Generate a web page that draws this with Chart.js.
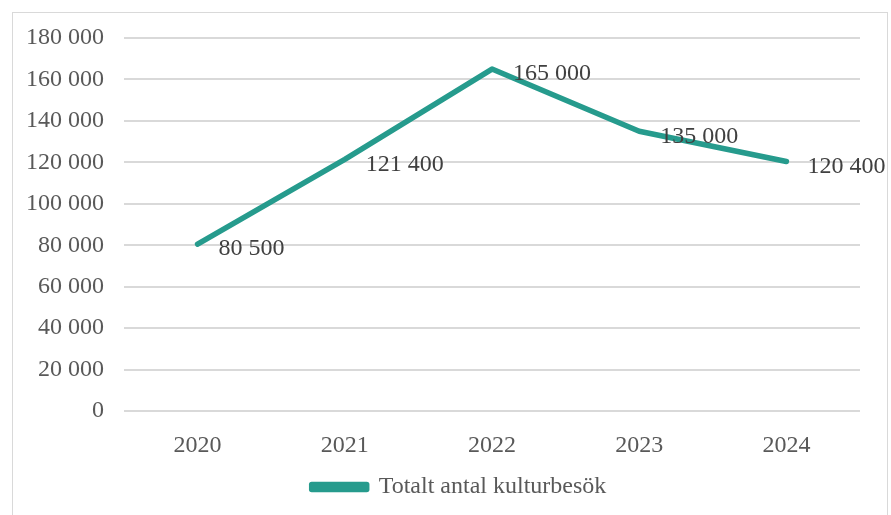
<!DOCTYPE html>
<html>
<head>
<meta charset="utf-8">
<script src="https://cdn.jsdelivr.net/npm/chart.js@4"></script>
<style>
  html, body { margin: 0; padding: 0; background: #fff; }
  #wrap { width: 891px; height: 515px; }
</style>
</head>
<body>
<div id="wrap"><canvas id="grafico"></canvas></div>
<script>
// Data
const years = ['2020', '2021', '2022', '2023', '2024'];
const visits = [80500, 121400, 165000, 135000, 120400];
const seriesLabel = 'Totalt antal kulturbesök';

const teal = '#269b8d';
const serif = '"Liberation Serif", "Times New Roman", serif';
const fmt = v => String(v).replace(/\B(?=(\d{3})+(?!\d))/g, ' ');

// frame around the chart + nudge legend to be centred like the original
const framePlugin = {
  id: 'frame',
  afterLayout(chart) {
    if (chart.legend) {
      chart.legend.left += 29;
      chart.legend.right += 29;
    }
  },
  beforeDraw(chart) {
    const c = chart.ctx;
    c.save();
    c.fillStyle = '#fff';
    c.fillRect(0, 0, chart.width, chart.height);
    c.strokeStyle = '#d9d9d9';
    c.lineWidth = 1;
    c.strokeRect(12.5, 12.5, 875, 540);
    c.restore();
  }
};

// values next to points
const labelPlugin = {
  id: 'pointLabels',
  afterDatasetsDraw(chart) {
    const c = chart.ctx;
    const meta = chart.getDatasetMeta(0);
    c.save();
    c.font = '24px ' + serif;
    c.fillStyle = '#404040';
    c.textAlign = 'left';
    c.textBaseline = 'middle';
    meta.data.forEach((pt, i) => {
      c.fillText(fmt(visits[i]), pt.x + 21, pt.y + 5);
    });
    c.restore();
  }
};

const ctx = document.getElementById('grafico').getContext('2d');
new Chart(ctx, {
  type: 'line',
  data: {
    labels: years,
    datasets: [{
      label: seriesLabel,
      data: visits,
      borderColor: teal,
      backgroundColor: teal,
      borderWidth: 5.5,
      pointRadius: 0,
      tension: 0,
      borderCapStyle: 'round',
      borderJoinStyle: 'round'
    }]
  },
  options: {
    responsive: true,
    maintainAspectRatio: false,
    animation: false,
    layout: { padding: { left: 0, right: 31, top: 38, bottom: 6 } },
    plugins: {
      legend: {
        position: 'bottom',
        labels: {
          color: '#595959',
          font: { family: serif, size: 24 },
          boxWidth: 55,
          boxHeight: 5,
          padding: 6
        }
      },
      tooltip: { enabled: false }
    },
    scales: {
      x: {
        offset: true,
        grid: { display: false, drawTicks: false },
        border: { display: false },
        ticks: {
          color: '#595959',
          padding: 20,
          font: { family: serif, size: 24 }
        },
        afterFit(scale) { scale.height = 58; }
      },
      y: {
        min: 0,
        max: 180000,
        grid: { color: '#d9d9d9', lineWidth: 2, drawTicks: false },
        border: { display: false },
        ticks: {
          stepSize: 20000,
          color: '#595959',
          padding: 20,
          font: { family: serif, size: 24 },
          callback: v => fmt(v)
        },
        afterFit(scale) { scale.width = 124; }
      }
    }
  },
  plugins: [framePlugin, labelPlugin]
});
</script>
</body>
</html>
